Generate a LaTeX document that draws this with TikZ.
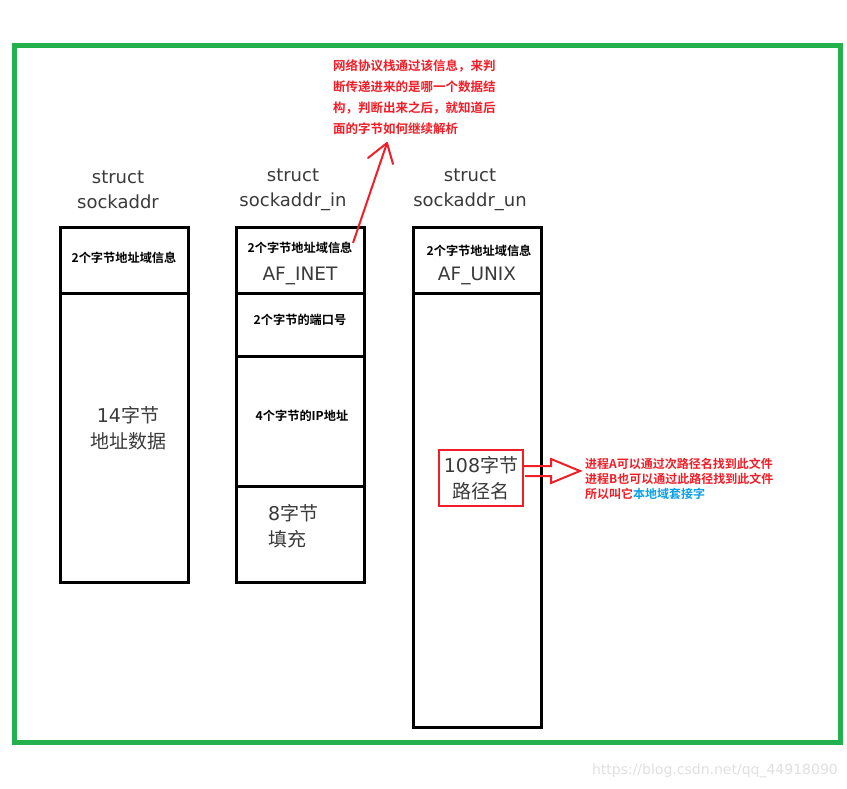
\documentclass[tikz,border=0pt]{standalone}
\usepackage{fontspec}
\setmainfont{DejaVu Sans}
\newfontfamily\cjkb{Noto Sans CJK SC}[BoldFont={* Bold}]
\newfontfamily\cjk{Noto Sans CJK SC}
\newfontfamily\dv{DejaVu Sans}
\usetikzlibrary{arrows.meta}
\definecolor{frameg}{HTML}{22B14C}
\definecolor{notered}{HTML}{F01E28}
\definecolor{noteblue}{HTML}{0AA0E6}
\definecolor{txtgray}{HTML}{3A3A3A}
\begin{document}
\begin{tikzpicture}[x=1pt,y=-1pt,
  cell/.style={draw=black,line width=3pt},
  title/.style={font=\dv\fontsize{18}{25}\selectfont,text=txtgray,align=center,inner sep=0pt},
  small/.style={font=\cjkb\bfseries\fontsize{12.2}{14}\selectfont,inner sep=0pt},
  big/.style={font=\cjk\fontsize{19}{26}\selectfont,text=txtgray,align=center,inner sep=0pt},
  note/.style={font=\cjkb\bfseries\fontsize{12.5}{21}\selectfont,text=notered,align=left,inner sep=0pt},
  rnote/.style={font=\cjkb\bfseries\fontsize{12}{15}\selectfont,text=notered,align=left,inner sep=0pt}]
\useasboundingbox (0,0) rectangle (847,789);
\fill[white] (0,0) rectangle (847,789);
% green frame
\draw[frameg,line width=5pt] (14.5,45.5) rectangle (840,742.5);

% titles
\node[title] (t1) at (118,190) {struct\\sockaddr};
\node[title] (t2) at (293,190) {struct\\sockaddr\_in};
\node[title] (t3) at (470,190) {struct\\sockaddr\_un};

% box 1
\draw[cell] (60,228) rectangle (188,582);
\draw[cell] (60,293) -- (188,293);
\node[small] (b1a) at (124,258) {2个字节地址域信息};
\node[big] (b1b) at (128,428) {{\dv 14}字节\\地址数据};

% box 2
\draw[cell] (236,228) rectangle (364,582);
\draw[cell] (236,293) -- (364,293);
\draw[cell] (236,356) -- (364,356);
\draw[cell] (236,486) -- (364,486);
\node[small] (b2a) at (300,248) {2个字节地址域信息};
\node[font=\dv\fontsize{18.5}{20}\selectfont,text=txtgray,inner sep=0pt] (b2b) at (300,276) {AF\_INET};
\node[small] (b2c) at (300,320) {2个字节的端口号};
\node[small] (b2d) at (302,416) {4个字节的IP地址};
\node[big,align=left,anchor=west] (b2e) at (268,526) {{\dv 8}字节\\填充};

% box 3
\draw[cell] (413,228) rectangle (541,727);
\draw[cell] (413,293) -- (541,293);
\node[small] (b3a) at (479,251) {2个字节地址域信息};
\node[font=\dv\fontsize{18.5}{20}\selectfont,text=txtgray,inner sep=0pt] (b3b) at (477,276) {AF\_UNIX};
\node[big] (b3c) at (481,478) {{\dv 108}字节\\路径名};
\draw[notered,line width=2.2pt] (439,450) rectangle (523,506);
\coordinate (rb) at (524,471);

% top note
\node[note,anchor=north west] (n1) at (333,60) {网络协议栈通过该信息，来判\\断传递进来的是哪一个数据结\\构，判断出来之后，就知道后\\面的字节如何继续解析};
\coordinate (tip) at (387,143);
\coordinate (tail) at (353,243);
\draw[notered,line width=2pt] (tail) -- (tip);
\draw[notered,line width=2pt,line cap=round,line join=round] (368,158) -- (tip) -- (393,164);

% hollow arrow
\draw[notered,line width=2pt,line join=miter] (rb) ++(0,-5) -- (551,466) -- (551,459) -- (580,471) -- (551,483) -- (551,476) -- (525,476);

% right note
\node[rnote,anchor=west] (n2) at (585,479) {进程A可以通过次路径名找到此文件\\进程B也可以通过此路径找到此文件\\所以叫它\textcolor{noteblue}{本地域套接字}};

% watermark
\node[font=\dv\fontsize{14}{16}\selectfont,text=black!12,anchor=east,inner sep=0pt] (wm) at (838,771) {https://blog.csdn.net/qq\_44918090};
\end{tikzpicture}
\end{document}
